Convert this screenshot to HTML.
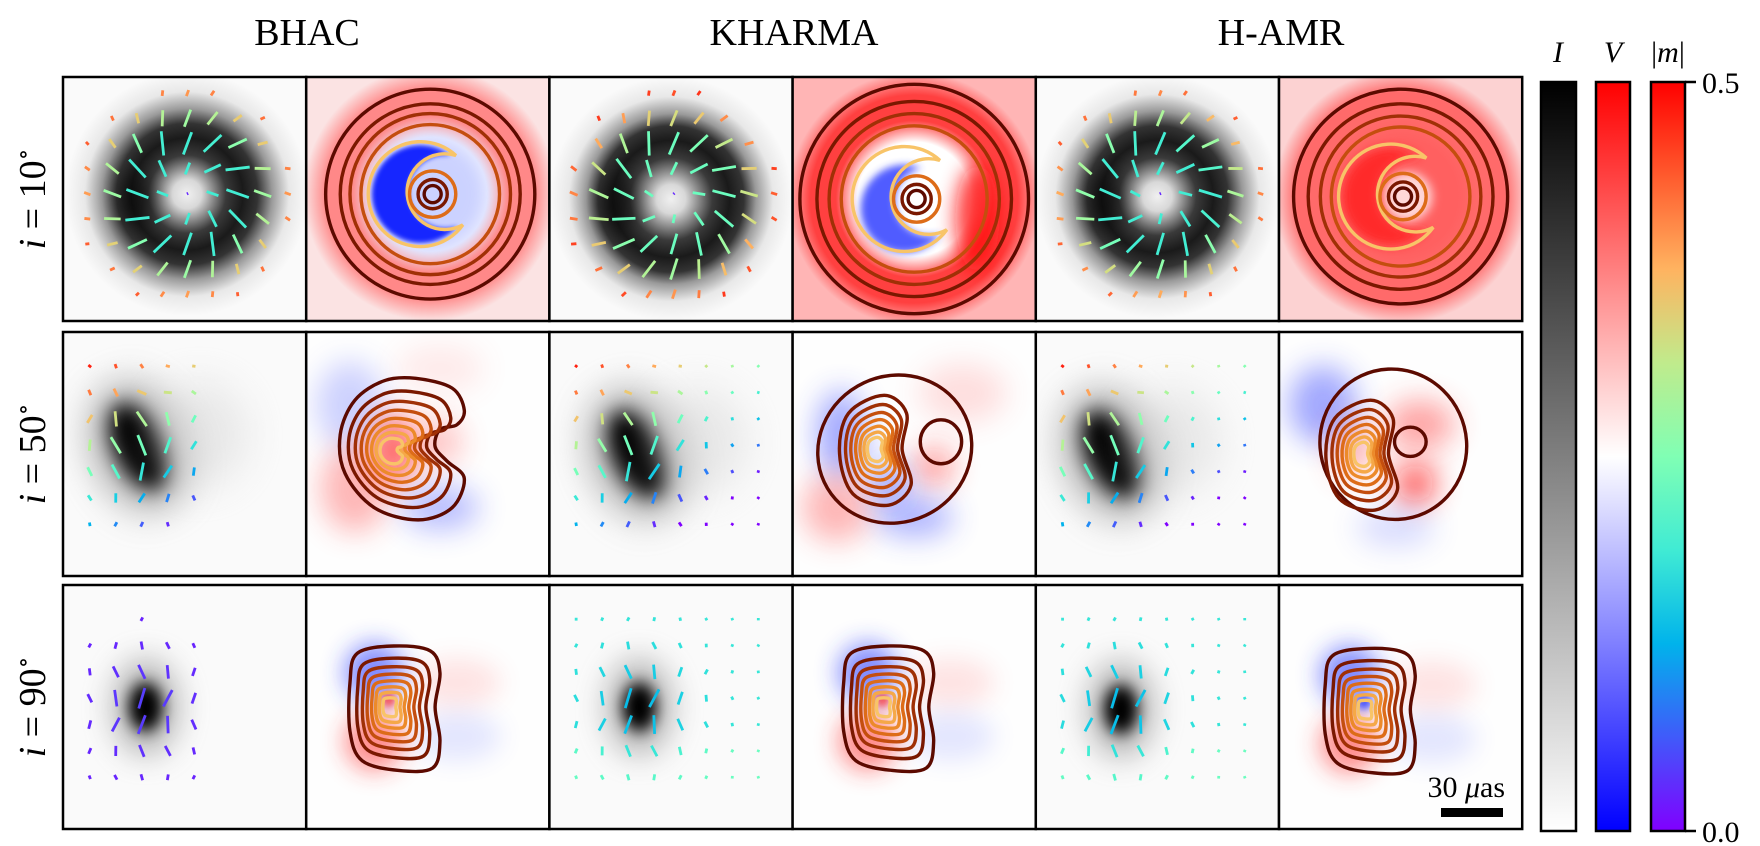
<!DOCTYPE html>
<html><head><meta charset="utf-8">
<style>
html,body{margin:0;padding:0;background:#fff;}
svg{display:block;font-family:"Liberation Serif","DejaVu Serif",serif;}
</style></head>
<body>
<svg id="fig" xmlns="http://www.w3.org/2000/svg" width="1760" height="846" viewBox="0 0 1760 846">
  <defs>
    <linearGradient id="cbI" x1="0" y1="0" x2="0" y2="1"><stop offset="0" stop-color="#000"/><stop offset="1" stop-color="#fff"/></linearGradient>
    <linearGradient id="cbV" x1="0" y1="0" x2="0" y2="1"><stop offset="0" stop-color="#ff0000"/><stop offset="0.5" stop-color="#ffffff"/><stop offset="1" stop-color="#0000ff"/></linearGradient>
    <linearGradient id="cbM" x1="0" y1="0" x2="0" y2="1">
      <stop offset="0" stop-color="#ff0000"/><stop offset="0.125" stop-color="#ff5a2d"/><stop offset="0.25" stop-color="#ffb360"/>
      <stop offset="0.375" stop-color="#c0eb8c"/><stop offset="0.5" stop-color="#80ffb4"/><stop offset="0.625" stop-color="#40ebd4"/>
      <stop offset="0.75" stop-color="#00b3eb"/><stop offset="0.875" stop-color="#405afa"/><stop offset="1" stop-color="#8000ff"/>
    </linearGradient>
  </defs>
  <g id="panels"></g>
  <g id="labels">
    <text x="307" y="45" font-size="38" text-anchor="middle">BHAC</text>
    <text x="794" y="45" font-size="38" text-anchor="middle">KHARMA</text>
    <text x="1281" y="45" font-size="38" text-anchor="middle">H-AMR</text>
    <text transform="translate(45,199) rotate(-90)" font-size="38" text-anchor="middle"><tspan font-style="italic">i</tspan> = 10<tspan dy="-14" font-size="24">∘</tspan></text>
    <text transform="translate(45,454) rotate(-90)" font-size="38" text-anchor="middle"><tspan font-style="italic">i</tspan> = 50<tspan dy="-14" font-size="24">∘</tspan></text>
    <text transform="translate(45,707) rotate(-90)" font-size="38" text-anchor="middle"><tspan font-style="italic">i</tspan> = 90<tspan dy="-14" font-size="24">∘</tspan></text>
  </g>
  <g id="colorbars">
    <rect x="1541" y="82" width="35" height="749" fill="url(#cbI)" stroke="#000" stroke-width="2.5"/>
    <rect x="1596" y="82" width="34" height="749" fill="url(#cbV)" stroke="#000" stroke-width="2.5"/>
    <rect x="1651" y="82" width="34" height="749" fill="url(#cbM)" stroke="#000" stroke-width="2.5"/>
    <text x="1558" y="62" font-size="30" font-style="italic" text-anchor="middle">I</text>
    <text x="1613" y="62" font-size="30" font-style="italic" text-anchor="middle">V</text>
    <text x="1668" y="62" font-size="30" text-anchor="middle">|<tspan font-style="italic">m</tspan>|</text>
    <line x1="1685" y1="82" x2="1696" y2="82" stroke="#000" stroke-width="2.5"/>
    <line x1="1685" y1="831" x2="1696" y2="831" stroke="#000" stroke-width="2.5"/>
    <text x="1702" y="93" font-size="30">0.5</text>
    <text x="1702" y="842" font-size="30">0.0</text>
  </g>
  <g id="scalebar"></g>
</svg>
<script>
const models = ['BHAC','KHARMA','H-AMR'];
const inclinations = [10,50,90];
const contourColors = ['#5c0a00','#7a1800','#a03006','#c44e0e','#dd6c18','#ec8a2a','#f5a848','#f8c468','#fadc8a'];
const kidneyLevels = [1,0.82,0.68,0.56,0.45,0.35,0.26,0.18];
const dLevels = [1,0.8,0.66,0.54,0.43,0.33,0.24,0.15];
const ringCenters = [[51,48],[50,50],[50,49]];
const ringRadii = [23,24,23];
const ringOuterRadii = [[43,37,33,28.5],[47,40,35,30],[44,38,33,28.5]];
const blob2 = [[31,47],[36,50],[31,50]];
const blob3 = [[34,50],[37,50],[35,51]];

const X0=63, PW=243.2, rowTop=[77,332,585], PH=244, SW=1.4;
const NS='http://www.w3.org/2000/svg';
let uid=0;

function rainbow(t){
  t=Math.max(0,Math.min(1,t));
  const r=Math.min(1,Math.abs(2*t-0.5)), g=Math.sin(Math.PI*t), b=Math.cos(Math.PI*t/2);
  const h=v=>Math.round(Math.max(0,Math.min(1,v))*255);
  return `rgb(${h(r)},${h(g)},${h(b)})`;
}
function smooth(pts){
  const n=pts.length; let d=`M${pts[0][0]},${pts[0][1]}`;
  for(let i=0;i<n;i++){
    const p0=pts[(i-1+n)%n],p1=pts[i],p2=pts[(i+1)%n],p3=pts[(i+2)%n];
    const c1=[p1[0]+(p2[0]-p0[0])/6,p1[1]+(p2[1]-p0[1])/6];
    const c2=[p2[0]-(p3[0]-p1[0])/6,p2[1]-(p3[1]-p1[1])/6];
    d+=` C${c1[0].toFixed(2)},${c1[1].toFixed(2)} ${c2[0].toFixed(2)},${c2[1].toFixed(2)} ${p2[0]},${p2[1]}`;
  }
  return d+'Z';
}
function scalePts(pts,c,s){return pts.map(p=>[+(c[0]+(p[0]-c[0])*s).toFixed(2),+(c[1]+(p[1]-c[1])*s).toFixed(2)]);}
// moon shape: outer circle (ox,oy,R) minus inner circle (ix,iy,r), inner shifted right
function moon(ox,oy,R,ix,iy,r){
  const dx=ix-ox, dy=iy-oy, d=Math.hypot(dx,dy);
  const a=(R*R-r*r+d*d)/(2*d), h=Math.sqrt(Math.max(0,R*R-a*a));
  const mx=ox+a*dx/d, my=oy+a*dy/d;
  const p1=[mx+h*dy/d, my-h*dx/d], p2=[mx-h*dy/d, my+h*dx/d];
  const top=p1[1]<p2[1]?p1:p2, bot=p1[1]<p2[1]?p2:p1;
  const largeOuter = (ox < mx) ? 1 : 0;
  const largeInner = (ix < mx) ? 1 : 0;
  const f=v=>v.toFixed(2);
  return `M${f(top[0])},${f(top[1])} A${R},${R} 0 ${largeOuter} 0 ${f(bot[0])},${f(bot[1])} A${r},${r} 0 ${largeInner} 1 ${f(top[0])},${f(top[1])} Z`;
}
function blurEl(shape,attrs,sd){
  const id='bl'+(uid++);
  return `<filter id="${id}" x="-100%" y="-100%" width="300%" height="300%"><feGaussianBlur stdDeviation="${sd}"/></filter><${shape} ${attrs} filter="url(#${id})"/>`;
}
function tick(x,y,len,ang,col){
  const dx=Math.cos(ang)*len/2, dy=Math.sin(ang)*len/2;
  return `<line x1="${(x-dx).toFixed(2)}" y1="${(y-dy).toFixed(2)}" x2="${(x+dx).toFixed(2)}" y2="${(y+dy).toFixed(2)}" stroke="${col}" stroke-width="1.15"/>`;
}

function intensityPanel(m,r){
  let s='<rect width="100" height="100" fill="#fafafa"/>';
  if(r===0){
    const [cx,cy]=ringCenters[m], R=ringRadii[m], id='rg'+(uid++);
    s+=`<radialGradient id="${id}" gradientUnits="userSpaceOnUse" cx="${cx}" cy="${cy}" r="50">
      <stop offset="0" stop-color="#f0f0f0"/><stop offset="0.12" stop-color="#d8d8d8"/>
      <stop offset="${(R-7)/50}" stop-color="#3a3a3a"/><stop offset="${R/50}" stop-color="#1a1a1a"/><stop offset="${(R+6)/50}" stop-color="#333"/>
      <stop offset="0.7" stop-color="#9a9a9a"/><stop offset="0.84" stop-color="#e8e8e8"/><stop offset="1" stop-color="#fafafa"/></radialGradient>`;
    s+=`<circle cx="${cx}" cy="${cy}" r="50" fill="url(#${id})"/>`;
    s+=blurEl('ellipse',`cx="${cx-21}" cy="${cy+2}" rx="7" ry="11" fill="#000" opacity="0.5"`,4);
    for(let i=0;i<9;i++)for(let j=0;j<9;j++){
      const x=10+10.3*i, y=6.6+10.3*j, dx=x-cx, dy=y-cy, d=Math.hypot(dx,dy);
      if(d>46) continue;
      const w=Math.exp(-((d-R)*(d-R))/(2*10*10));
      const len=d<4?0.6:1.0+9*w;
      const t=d<4?0.05:0.38+0.5*Math.max(0,Math.min(1,(d-R)/22))+(m===1?0.08:0);
      s+=tick(x,y,len,Math.atan2(dy,dx)+0.35,rainbow(t));
    }
  } else {
    const [bx,by]=(r===1?blob2:blob3)[m];
    if(r===1){
      s+=blurEl('ellipse',`cx="${bx}" cy="${by}" rx="20" ry="28" fill="#888" opacity="0.6" transform="rotate(-20 ${bx} ${by})"`,7);
      s+=blurEl('ellipse',`cx="${bx}" cy="${by}" rx="10" ry="19" fill="#000" transform="rotate(-25 ${bx} ${by})"`,4);
      s+=blurEl('ellipse',`cx="${bx+25}" cy="${by-5}" rx="20" ry="22" fill="#ccc" opacity="0.4"`,8);
    } else {
      s+=blurEl('ellipse',`cx="${bx}" cy="${by}" rx="14" ry="20" fill="#777" opacity="0.5"`,6);
      s+=blurEl('ellipse',`cx="${bx}" cy="${by}" rx="7" ry="10" fill="#000"`,3);
    }
    const maxI=(m===0?5:8);
    for(let i=0;i<maxI;i++)for(let j=0;j<7;j++){
      const x=11+10.7*i, y=14+10.8*j, dx=x-bx, dy=y-by, d=Math.hypot(dx,dy);
      const w=Math.exp(-(d*d)/(2*16*16));
      let t,ang,len=1+8*w;
      if(r===1){
        t=1.0-y*0.011-(x-30)*0.006;
        ang=Math.PI/2+0.6*Math.sin(i*1.3+j)+(y<35?-0.9:0);
        if(m===0 && y>70 && x>45) continue;
      } else {
        t=(m===0)?0.04+0.04*w:0.26+0.2*(1-w)*(y>60?1:0.5);
        ang=Math.PI/2+0.5*Math.sin(i*0.9+j*1.7);
        if(m===0 && (y<20 && x!==32.4)) continue;
      }
      s+=tick(x,y,len,ang,rainbow(t));
    }
  }
  return s;
}

function vPanel(m,r){
  let s='';
  if(r===0){
    const [cx,cy]=ringCenters[m], id='vg'+(uid++);
    const bg=['#fbe3e3','#ffb5b5','#fcd2d2'][m];
    const ring=['#ff8888','#ff4040','#ff6a6a'][m];
    const inner=['#e8ebff','#ffffff','#ff6060'][m];
    s+=`<rect width="100" height="100" fill="${bg}"/>`;
    s+=`<radialGradient id="${id}" gradientUnits="userSpaceOnUse" cx="${cx}" cy="${cy}" r="52">
      <stop offset="0" stop-color="${inner}"/><stop offset="0.45" stop-color="${inner}"/>
      <stop offset="0.62" stop-color="${ring}"/><stop offset="0.82" stop-color="${ring}"/><stop offset="1" stop-color="${bg}"/></radialGradient>`;
    s+=`<circle cx="${cx}" cy="${cy}" r="52" fill="url(#${id})"/>`;
    if(m===0){
      s+=blurEl('circle',`cx="${cx}" cy="${cy}" r="22" fill="#c0c8ff" opacity="0.7"`,3);
      s+=blurEl('path',`d="${moon(cx-4,cy,20,cx+6,cy-1,15)}" fill="#1428ff"`,1);
    } else if(m===1){
      s+=blurEl('ellipse',`cx="${cx+26}" cy="${cy+8}" rx="9" ry="22" fill="#ff1010" opacity="0.8"`,4);
      s+=blurEl('path',`d="${moon(cx-4,cy+4,18,cx+6,cy+1,14)}" fill="#3040ff" opacity="0.85"`,1.5);
    } else {
      s+=blurEl('path',`d="${moon(cx-4,cy,20,cx+6,cy-1,15)}" fill="#ff2a2a"`,2);
      s+=blurEl('circle',`cx="${cx+3}" cy="${cy}" r="10" fill="#ffd8d8"`,2);
    }
    const rr=ringOuterRadii[m];
    rr.forEach((R,k)=>{ s+=`<circle cx="${cx}" cy="${cy}" r="${R}" fill="none" stroke="${contourColors[k]}" stroke-width="${SW}"/>`; });
    s+=`<path d="${moon(cx-2,cy,25,cx+5,cy,13)}" fill="none" stroke="${contourColors[5]}" stroke-width="${SW}"/>`;
    s+=`<path d="${moon(cx-4,cy,21.5,cx+6,cy-1,15.5)}" fill="none" stroke="${contourColors[7]}" stroke-width="${SW}"/>`;
    s+=`<circle cx="${cx+1}" cy="${cy}" r="9.5" fill="none" stroke="${contourColors[4]}" stroke-width="${SW}"/>`;
    s+=`<circle cx="${cx+1}" cy="${cy}" r="6" fill="none" stroke="${contourColors[1]}" stroke-width="${SW}"/>`;
    s+=`<circle cx="${cx+1}" cy="${cy}" r="3.5" fill="none" stroke="${contourColors[0]}" stroke-width="${SW}"/>`;
  } else if(r===1){
    s+='<rect width="100" height="100" fill="#fefefe"/>';
    const lobes={
      0:[[18,30,14,18,'#4050ff',0.25],[20,64,14,18,'#ff3030',0.35],[36,48,9,14,'#ff2020',0.7],[55,45,9,10,'#ff4040',0.3],[55,72,16,9,'#3040ff',0.35],[55,15,18,10,'#ff6060',0.12]],
      1:[[20,42,10,18,'#3040ff',0.45],[18,72,14,14,'#ff3030',0.35],[70,25,18,12,'#ff5050',0.18],[58,55,8,8,'#ff2020',0.45],[50,76,16,8,'#3040ff',0.4],[40,62,6,8,'#2030ff',0.6]],
      2:[[18,30,14,16,'#3040ff',0.45],[58,38,14,10,'#ff3030',0.45],[56,62,8,8,'#ff1010',0.75],[30,48,8,12,'#ff4040',0.4],[48,80,16,8,'#4050ff',0.2]]
    }[m];
    lobes.forEach(l=>{s+=blurEl('ellipse',`cx="${l[0]}" cy="${l[1]}" rx="${l[2]}" ry="${l[3]}" fill="${l[4]}" opacity="${l[5]}"`,6);});
    if(m===0){
      const outer=[[45,19],[60,23],[65,32],[62,38],[55,40],[53,47],[58,53],[65,60],[60,72],[46,77],[28,72],[16,58],[14,42],[20,28],[32,20]];
      const c=[34,49];
      kidneyLevels.forEach((lv,k)=>{ s+=`<path d="${smooth(scalePts(outer,c,lv))}" fill="none" stroke="${contourColors[k]}" stroke-width="${SW}"/>`; });
    } else {
      const inner=m===1?[34,48]:[34,50];
      const big=m===1?{cx:42,cy:48,rx:32,ry:30}:{cx:47,cy:46,rx:30,ry:31};
      s+=`<ellipse cx="${big.cx}" cy="${big.cy}" rx="${big.rx}" ry="${big.ry}" transform="rotate(-25 ${big.cx} ${big.cy})" fill="none" stroke="${contourColors[0]}" stroke-width="${SW}"/>`;
      const sc=m===1?[61,45,8.5,9]:[54,45,6.5,6];
      s+=`<ellipse cx="${sc[0]}" cy="${sc[1]}" rx="${sc[2]}" ry="${sc[3]}" fill="none" stroke="${contourColors[0]}" stroke-width="${SW}"/>`;
      const egg=[[inner[0]+4,inner[1]-24],[inner[0]+14,inner[1]-16],[inner[0]+12,inner[1]],[inner[0]+16,inner[1]+16],[inner[0]+6,inner[1]+25],[inner[0]-10,inner[1]+20],[inner[0]-16,inner[1]+2],[inner[0]-12,inner[1]-16]];
      kidneyLevels.slice(1).forEach((lv,k)=>{ s+=`<path d="${smooth(scalePts(egg,inner,lv*1.12))}" fill="none" stroke="${contourColors[k+1]}" stroke-width="${SW}"/>`; });
    }
  } else {
    s+='<rect width="100" height="100" fill="#fefefe"/>';
    const c=blob3[m];
    const lobes=[[c[0]-6,c[1]-14,12,12,'#2a3aff',0.6],[c[0]-6,c[1]+14,12,12,'#ff2a2a',0.55],[c[0]+28,c[1]-10,18,10,'#ff5050',0.15],[c[0]+28,c[1]+12,18,10,'#5060ff',0.15]];
    lobes.forEach(l=>{s+=blurEl('ellipse',`cx="${l[0]}" cy="${l[1]}" rx="${l[2]}" ry="${l[3]}" fill="${l[4]}" opacity="${l[5]}"`,5);});
    s+=blurEl('ellipse',`cx="${c[0]}" cy="${c[1]-3}" rx="3" ry="3" fill="${m===2?'#2030ff':'#ff3030'}" opacity="0.8"`,1.5);
    const D=[[c[0]-13,c[1]-22],[c[0]+2,c[1]-25],[c[0]+17,c[1]-23],[c[0]+21,c[1]-14],[c[0]+19,c[1]],[c[0]+21,c[1]+14],[c[0]+18,c[1]+25],[c[0]+4,c[1]+26],[c[0]-11,c[1]+22],[c[0]-16,c[1]+10],[c[0]-16,c[1]-10]];
    dLevels.forEach((lv,k)=>{ s+=`<path d="${smooth(scalePts(D,c,lv))}" fill="none" stroke="${contourColors[k]}" stroke-width="${SW}"/>`; });
  }
  return s;
}

const pg=document.getElementById('panels');
for(let r=0;r<3;r++){
  for(let c=0;c<6;c++){
    const m=Math.floor(c/2), isV=c%2===1;
    const x=X0+c*PW, y=rowTop[r];
    const g=document.createElementNS(NS,'g');
    
    
    const inner=isV?vPanel(m,r):intensityPanel(m,r);
    g.innerHTML=`<svg x="${x}" y="${y}" width="${PW}" height="${PH}" viewBox="0 0 100 100" preserveAspectRatio="none" overflow="hidden">${inner}</svg><rect x="${x}" y="${y}" width="${PW}" height="${PH}" fill="none" stroke="#000" stroke-width="2.5"/>`;
    pg.appendChild(g);
  }
}
const sb=document.getElementById('scalebar');
const sbRect=document.createElementNS(NS,'rect');
sbRect.setAttribute('x','1441');sbRect.setAttribute('y','808');sbRect.setAttribute('width','62');sbRect.setAttribute('height','9');sbRect.setAttribute('fill','#000');


sb.appendChild(sbRect);
const sbText=document.createElementNS(NS,'text');
sbText.setAttribute('x','1505');sbText.setAttribute('y','797');sbText.setAttribute('font-size','30');sbText.setAttribute('text-anchor','end');
sbText.innerHTML='30 <tspan font-style="italic">μ</tspan>as';


sb.appendChild(sbText);
</script>
</body></html>
